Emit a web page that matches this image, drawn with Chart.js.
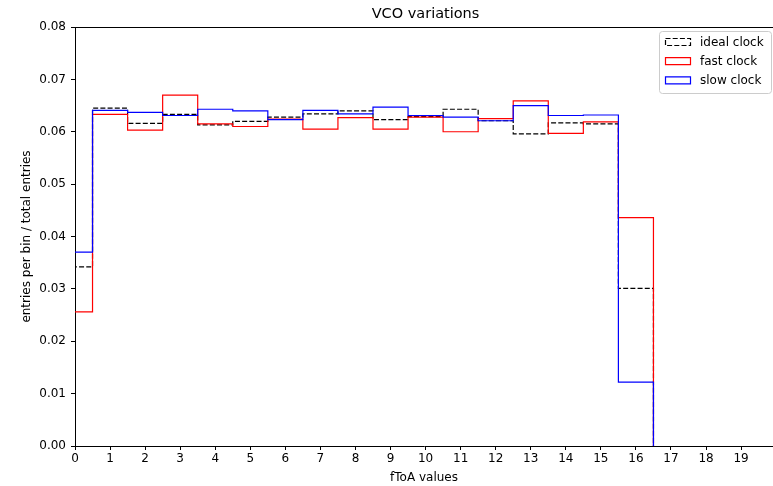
<!DOCTYPE html>
<html>
<head>
<meta charset="utf-8">
<script src="https://cdn.jsdelivr.net/npm/chart.js@4/dist/chart.umd.min.js"></script>
<style>
  html, body { margin: 0; padding: 0; background: #fff; }
  #wrap { width: 773px; height: 486px; position: relative; }
</style>
</head>
<body>
<div id="wrap"><canvas id="c" width="773" height="486"></canvas></div>
<script>
// fToA histogram bins (one bin per integer code, edges at k +/- 0.5)
const binCenters = [0, 1, 2, 3, 4, 5, 6, 7, 8, 9, 10, 11, 12, 13, 14, 15, 16];

// normalised counts per bin (entries per bin / total entries)
const idealClock = [0.0342, 0.0645, 0.0616, 0.0633, 0.0613, 0.0620, 0.0628, 0.0634, 0.0640, 0.0623,
                    0.0629, 0.0643, 0.0621, 0.0596, 0.0617, 0.0615, 0.0301];
const fastClock  = [0.0256, 0.0633, 0.0603, 0.0670, 0.0615, 0.0610, 0.0624, 0.0605, 0.0627, 0.0605,
                    0.0628, 0.0600, 0.0625, 0.0659, 0.0597, 0.0619, 0.0436];
const slowClock  = [0.0370, 0.0641, 0.0637, 0.0631, 0.0643, 0.0640, 0.0623, 0.0641, 0.0634, 0.0647,
                    0.0631, 0.0628, 0.0621, 0.0650, 0.0631, 0.0632, 0.0122];

const seriesLabels = ['ideal clock', 'fast clock', 'slow clock'];
const xTickValues = [0, 1, 2, 3, 4, 5, 6, 7, 8, 9, 10, 11, 12, 13, 14, 15, 16, 17, 18, 19];
const yTickValues = [0.00, 0.01, 0.02, 0.03, 0.04, 0.05, 0.06, 0.07, 0.08];
const chartTitle = 'VCO variations';
const xTitle = 'fToA values';
const yTitle = 'entries per bin / total entries';

const FONT = "'DejaVu Sans', sans-serif";

// Outline of a step histogram: start on the baseline at the first edge,
// hold each bin value across its bin, drop back to zero after the last edge.
function stepOutline(values) {
  const pts = [{ x: binCenters[0] - 0.5, y: 0 }];
  values.forEach((v, i) => pts.push({ x: binCenters[i] - 0.5, y: v }));
  pts.push({ x: binCenters[binCenters.length - 1] + 0.5, y: 0 });
  return pts;
}

const titlePlugin = {
  id: 'axesTitle',
  afterDraw(chart) {
    const { ctx, chartArea } = chart;
    ctx.save();
    ctx.fillStyle = '#000';
    ctx.font = `14.5px ${FONT}`;
    ctx.textAlign = 'center';
    ctx.textBaseline = 'middle';
    ctx.fillText(chartTitle, (chartArea.left + 776) / 2, 14);
    ctx.restore();
  }
};

const framePlugin = {
  id: 'topSpine',
  afterDatasetsDraw(chart) {
    const { ctx, chartArea } = chart;
    ctx.save();
    ctx.strokeStyle = '#000';
    ctx.lineWidth = 1;
    ctx.beginPath();
    ctx.moveTo(chartArea.left, chartArea.top + 0.5);
    ctx.lineTo(chartArea.right, chartArea.top + 0.5);
    ctx.stroke();
    ctx.restore();
  }
};

const legendPlugin = {
  id: 'boxLegend',
  afterDraw(chart) {
    const { ctx } = chart;
    const x0 = 659.5, y0 = 31.5, w = 112, h = 62, r = 3;
    ctx.save();
    ctx.beginPath();
    ctx.moveTo(x0 + r, y0);
    ctx.lineTo(x0 + w - r, y0);
    ctx.arcTo(x0 + w, y0, x0 + w, y0 + r, r);
    ctx.lineTo(x0 + w, y0 + h - r);
    ctx.arcTo(x0 + w, y0 + h, x0 + w - r, y0 + h, r);
    ctx.lineTo(x0 + r, y0 + h);
    ctx.arcTo(x0, y0 + h, x0, y0 + h - r, r);
    ctx.lineTo(x0, y0 + r);
    ctx.arcTo(x0, y0, x0 + r, y0, r);
    ctx.closePath();
    ctx.fillStyle = 'rgba(255,255,255,0.8)';
    ctx.fill();
    ctx.strokeStyle = '#cccccc';
    ctx.lineWidth = 1;
    ctx.stroke();

    ctx.font = `12px ${FONT}`;
    ctx.textBaseline = 'middle';
    ctx.textAlign = 'left';
    chart.data.datasets.forEach((ds, i) => {
      const cy = 42 + i * 19.2;
      ctx.beginPath();
      ctx.rect(665.5, cy - 3.5, 25, 7);
      ctx.strokeStyle = ds.borderColor;
      ctx.lineWidth = 1.2;
      ctx.setLineDash(ds.borderDash || []);
      ctx.stroke();
      ctx.setLineDash([]);
      ctx.fillStyle = '#000';
      ctx.fillText(ds.label, 700, cy + 0.5);
    });
    ctx.restore();
  }
};

new Chart(document.getElementById('c'), {
  type: 'line',
  data: {
    datasets: [
      { label: seriesLabels[0], data: stepOutline(idealClock), borderColor: '#000000',
        borderDash: [5, 2.2], order: 2 },
      { label: seriesLabels[1], data: stepOutline(fastClock), borderColor: '#ff0000', order: 1 },
      { label: seriesLabels[2], data: stepOutline(slowClock), borderColor: '#0000ff', order: 0 }
    ]
  },
  options: {
    responsive: false,
    animation: false,
    devicePixelRatio: 1,
    layout: { padding: { top: 27, right: 0, bottom: 0, left: 0 } },
    elements: {
      line: { borderWidth: 1.2, stepped: true, tension: 0, fill: false, borderJoinStyle: 'miter' },
      point: { radius: 0, hoverRadius: 0 }
    },
    plugins: {
      legend: { display: false },
      title: { display: false },
      tooltip: { enabled: false }
    },
    events: [],
    scales: {
      x: {
        type: 'linear',
        min: 0,
        max: 19.91,
        afterFit(scale) { scale.height = 40; },
        afterBuildTicks(scale) { scale.ticks = xTickValues.map(v => ({ value: v })); },
        grid: { drawOnChartArea: false, drawTicks: true, tickLength: 4, tickColor: '#000' },
        border: { display: true, color: '#000', width: 1 },
        ticks: {
          color: '#000', font: { family: FONT, size: 12 }, padding: 2, maxRotation: 0,
          autoSkip: false, callback: v => String(v)
        },
        title: {
          display: true, text: xTitle, color: '#000',
          font: { family: FONT, size: 12 }, padding: { top: 0, bottom: 1 }
        }
      },
      y: {
        type: 'linear',
        min: 0,
        max: 0.08,
        afterFit(scale) { scale.width = 75; },
        afterBuildTicks(scale) { scale.ticks = yTickValues.map(v => ({ value: v })); },
        grid: { drawOnChartArea: false, drawTicks: true, tickLength: 4, tickColor: '#000' },
        border: { display: true, color: '#000', width: 1 },
        ticks: {
          color: '#000', font: { family: FONT, size: 12 }, padding: 5,
          callback: v => Number(v).toFixed(2)
        },
        title: {
          display: true, text: yTitle, color: '#000',
          font: { family: FONT, size: 12 }, padding: { top: 20, bottom: 0 }
        }
      }
    }
  },
  plugins: [titlePlugin, framePlugin, legendPlugin]
});
</script>
</body>
</html>
